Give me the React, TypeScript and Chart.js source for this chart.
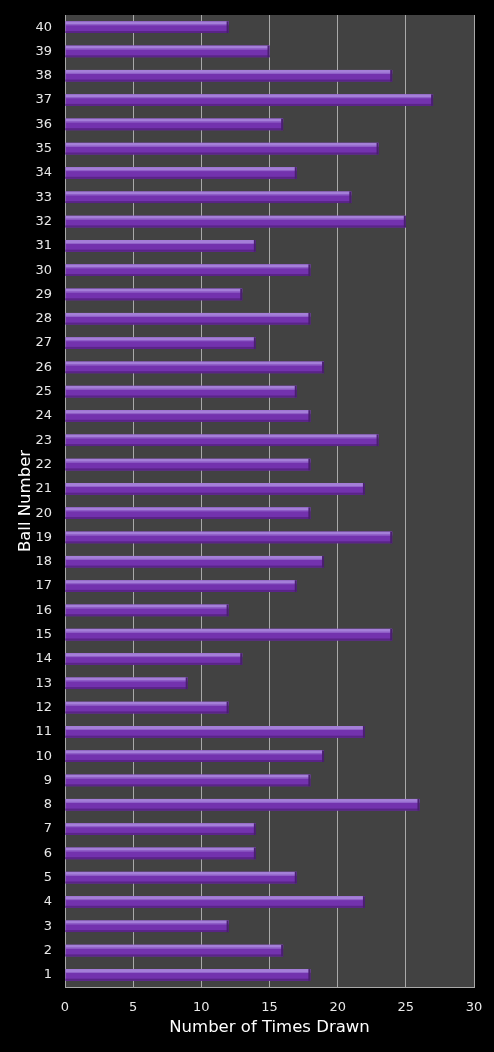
import React, { useEffect, useRef } from "react";
import { Chart, registerables } from "chart.js";

Chart.register(...registerables);

const balls: string[] = Array.from({ length: 40 }, (_, i) => String(i + 1));
const timesDrawn: number[] = [
  18, 16, 12, 22, 17, 14, 14, 26, 18, 19,
  22, 12, 9, 13, 24, 12, 17, 19, 24, 18,
  22, 18, 23, 18, 17, 19, 14, 18, 13, 18,
  14, 25, 21, 17, 23, 16, 27, 24, 15, 12,
];
const xTicks: number[] = [0, 5, 10, 15, 20, 25, 30];

const plotBg = {
  id: "plotBg",
  beforeDraw(chart: any) {
    const { ctx, chartArea } = chart;
    ctx.save();
    ctx.fillStyle = "#000000";
    ctx.fillRect(0, 0, chart.width, chart.height);
    ctx.fillStyle = "#424242";
    ctx.fillRect(chartArea.left, chartArea.top, chartArea.right - chartArea.left, chartArea.bottom - chartArea.top);
    ctx.restore();
  },
};

const barShade = {
  id: "barShade",
  afterDatasetsDraw(chart: any) {
    const { ctx } = chart;
    const meta = chart.getDatasetMeta(0);
    ctx.save();
    meta.data.forEach((bar: any) => {
      const p = bar.getProps(["x", "y", "base", "height"], true);
      const top = p.y - p.height / 2;
      const left = Math.min(p.base, p.x);
      const w = Math.abs(p.x - p.base);
      ctx.fillStyle = "#a47fd8";
      ctx.fillRect(left, top, w, 3);
      ctx.fillStyle = "#9466cc";
      ctx.fillRect(left, top + 3, w, 1);
      ctx.fillStyle = "#5a2488";
      ctx.fillRect(left, top + p.height - 2, w, 2);
      ctx.fillStyle = "#4a1f70";
      ctx.fillRect(left + w - 2, top, 2, p.height);
    });
    ctx.restore();
  },
};

export default function App() {
  const ref = useRef<HTMLCanvasElement | null>(null);
  useEffect(() => {
    if (!ref.current) return;
    const chart = new Chart(ref.current, {
      type: "bar",
      data: {
        labels: balls,
        datasets: [
          {
            data: timesDrawn,
            backgroundColor: "#7332ae",
            borderWidth: 0,
            barPercentage: 1.0,
            categoryPercentage: 0.48,
          },
        ],
      },
      options: {
        indexAxis: "y",
        animation: false,
        responsive: true,
        maintainAspectRatio: false,
        layout: { padding: { left: 0, right: 20, top: 15, bottom: 0 } },
        plugins: { legend: { display: false }, tooltip: { enabled: false } },
        scales: {
          x: {
            min: 0,
            max: 30,
            afterBuildTicks: (scale: any) => {
              scale.ticks = xTicks.map((v) => ({ value: v }));
            },
            afterFit: (scale: any) => {
              scale.height = 65;
              scale.paddingLeft = 0;
              scale.paddingRight = 0;
            },
            grid: { color: "#a9a9a9", lineWidth: 1, drawTicks: false },
            border: { color: "#a9a9a9" },
            ticks: { color: "#e8e8e8", padding: 13, font: { family: "DejaVu Sans", size: 13 } },
            title: {
              display: true,
              text: "Number of Times Drawn",
              color: "#ffffff",
              font: { family: "DejaVu Sans", size: 16.5 },
              padding: { top: 0, bottom: 14 },
            },
          },
          y: {
            reverse: true,
            afterFit: (scale: any) => {
              scale.width = 65;
              scale.paddingTop = 0;
              scale.paddingBottom = 0;
            },
            grid: { display: false, drawTicks: false },
            border: { color: "#a9a9a9" },
            ticks: { color: "#e8e8e8", padding: 13, font: { family: "DejaVu Sans", size: 13 }, autoSkip: false },
            title: {
              display: true,
              text: "Ball Number",
              color: "#ffffff",
              font: { family: "DejaVu Sans", size: 16.5 },
              padding: { top: 16, bottom: 0 },
            },
          },
        },
      },
      plugins: [plotBg, barShade],
    });
    return () => chart.destroy();
  }, []);
  return (
    <div style={{ position: "fixed", left: 0, top: 0, width: 494, height: 1052, background: "#000" }}>
      <canvas ref={ref} />
    </div>
  );
}
